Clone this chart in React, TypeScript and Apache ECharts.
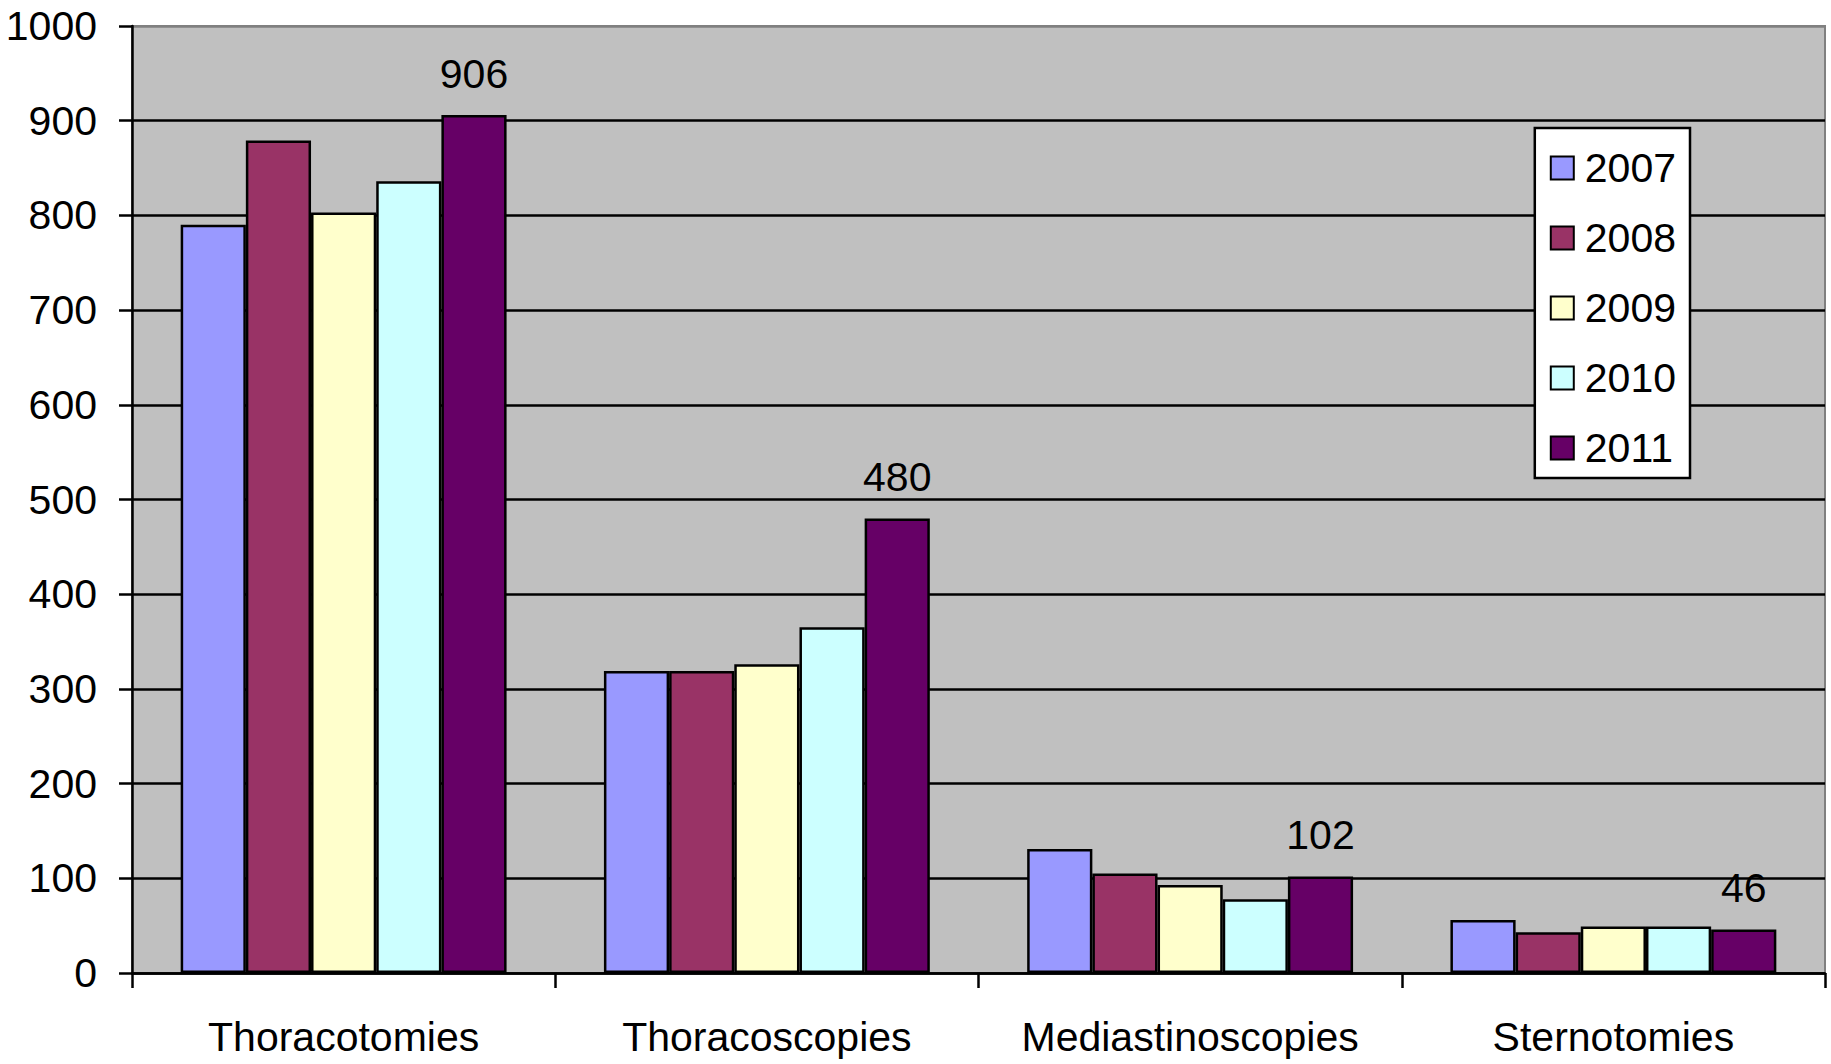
import React, { useEffect, useRef } from "react";
import * as echarts from "echarts";

const categories = ["Thoracotomies", "Thoracoscopies", "Mediastinoscopies", "Sternotomies"];
const years = ["2007", "2008", "2009", "2010", "2011"];
const values2007 = [790, 319, 131, 56];
const values2008 = [879, 319, 105, 43];
const values2009 = [803, 326, 93, 49];
const values2010 = [836, 365, 78, 49];
const values2011 = [906, 480, 102, 46];
const seriesValues = [values2007, values2008, values2009, values2010, values2011];
const colors = ["#9999FF", "#993366", "#FFFFCC", "#CCFFFF", "#660066"];

const FONT = '"Liberation Sans", Arial, sans-serif';
const FS = 41;

export default function App() {
  const ref = useRef<HTMLDivElement>(null);
  useEffect(() => {
    document.body.style.margin = "0";
    const chart = echarts.init(ref.current!, null, { renderer: "svg" });
    const splitColors = Array.from({ length: 10 }, () => "#000000").concat(["#808080"]);
    chart.setOption({
      animation: false,
      backgroundColor: "#ffffff",
      textStyle: { fontFamily: FONT, color: "#000" },
      grid: {
        left: 132,
        right: 6,
        top: 26,
        bottom: 91,
        show: true,
        outerBoundsMode: "none",
        containLabel: false,
        backgroundColor: "#C0C0C0",
        borderColor: "#808080",
        borderWidth: 2,
      },
      legend: {
        orient: "vertical",
        right: 141,
        top: 128,
        backgroundColor: "#ffffff",
        borderColor: "#000",
        borderWidth: 2.5,
        padding: [18, 14, 8, 15],
        icon: "rect",
        itemWidth: 23,
        itemHeight: 23,
        itemGap: 26,
        data: years,
        formatter: (name: string) => "{t|" + name + "}",
        textStyle: {
          fontFamily: FONT,
          fontSize: FS,
          lineHeight: 44,
          color: "#000",
          rich: { t: { fontFamily: FONT, fontSize: FS, lineHeight: 44, color: "#000", padding: [0, 0, 0, 6] } },
        },
      },
      xAxis: {
        type: "category",
        data: categories,
        axisLine: { lineStyle: { color: "#000", width: 2.5 } },
        axisTick: { show: true, length: 15, inside: false, lineStyle: { color: "#000", width: 2.5 } },
        axisLabel: { interval: 0, fontFamily: FONT, fontSize: FS, lineHeight: 44, color: "#000", margin: 42 },
      },
      yAxis: {
        type: "value",
        min: 0,
        max: 1000,
        interval: 100,
        axisLine: { show: true, lineStyle: { color: "#000", width: 2.5 } },
        axisTick: { show: true, length: 13, lineStyle: { color: "#000", width: 2.5 } },
        axisLabel: { fontFamily: FONT, fontSize: FS, color: "#000", margin: 35, formatter: (v: number) => String(v) },
        splitLine: { show: true, lineStyle: { color: splitColors, width: 2.5 } },
      },
      series: years.map((y, i) => ({
        name: y,
        type: "bar",
        data: seriesValues[i],
        barGap: "0%",
        barCategoryGap: "23%",
        itemStyle: { color: colors[i], borderColor: "#000", borderWidth: 2.5 },
        label:
          i === 4
            ? {
                show: true,
                position: "top",
                distance: 19,
                fontFamily: FONT,
                fontSize: FS,
                lineHeight: 44,
                color: "#000",
              }
            : { show: false },
      })),
    });
    return () => chart.dispose();
  }, []);
  return <div ref={ref} style={{ width: 1831, height: 1064 }} />;
}
